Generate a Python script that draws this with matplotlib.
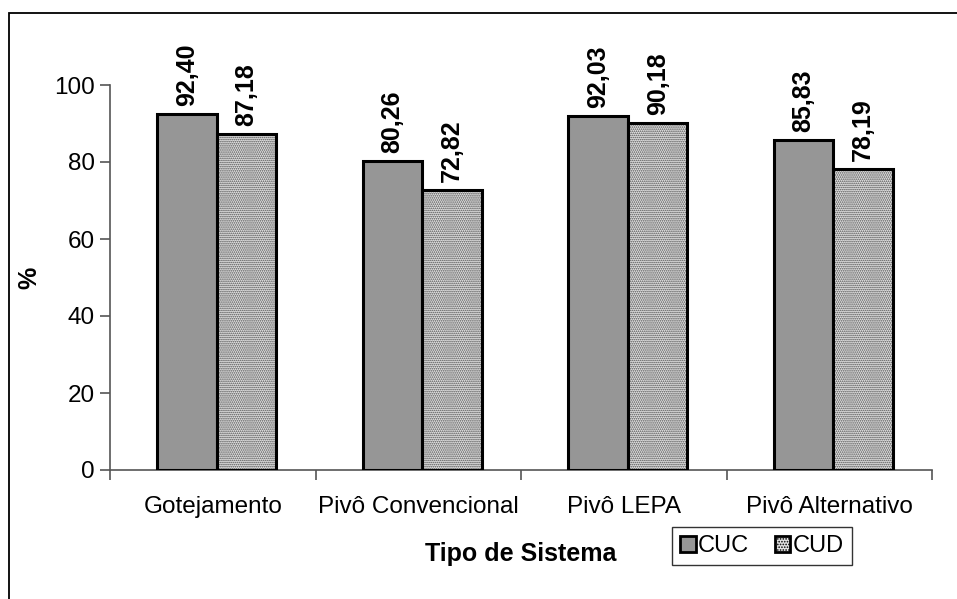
import matplotlib.pyplot as plt
import numpy as np
from matplotlib.patches import Patch, Rectangle

plt.rcParams["font.family"] = ["Liberation Sans", "DejaVu Sans"]
plt.rcParams["hatch.linewidth"] = 0.8

categorias = ["Gotejamento", "Pivô Convencional", "Pivô LEPA", "Pivô Alternativo"]
cuc = [92.40, 80.26, 92.03, 85.83]
cud = [87.18, 72.82, 90.18, 78.19]
series = ["CUC", "CUD"]

fig = plt.figure(figsize=(9.57, 5.99), dpi=100)
ax = fig.add_axes([110 / 957, 1 - 470 / 599, (932 - 110) / 957, (470 - 85) / 599])

x = np.arange(len(categorias))
w = 0.29
xc = x - w / 2 + 0.02
xd = x + w / 2 + 0.02

ax.bar(xc, cuc, w, color="#969696", edgecolor="black", linewidth=2.2, zorder=3)
# CUD: fine dotted pattern, then black outline on top
ax.bar(xd, cud, w, color="#e4e4e4", edgecolor="#4a4a4a", hatch="........", linewidth=0, zorder=3)
ax.bar(xd, cud, w, fill=False, edgecolor="black", linewidth=2.2, zorder=4)

for xs, vals in ((xc, cuc), (xd, cud)):
    for xi, v in zip(xs, vals):
        ax.annotate(f"{v:.2f}".replace(".", ","), (xi, v), xytext=(0, 8),
                    textcoords="offset pixels", rotation=90, ha="center", va="bottom",
                    fontsize=18, fontweight="bold")

ax.set_xlim(-0.5, len(categorias) - 0.5)
ax.set_ylim(0, 100)
ax.set_yticks([0, 20, 40, 60, 80, 100])
ax.set_xticks(x)
ax.set_xticklabels(categorias)
ax.set_xticks(np.arange(len(categorias) + 1) - 0.5, minor=True)
ax.tick_params(axis="x", which="major", length=0, pad=19, labelsize=17.5)
ax.tick_params(axis="x", which="minor", length=7, width=1.2, color="#555555", direction="out")
ax.tick_params(axis="y", length=7, width=1.2, color="#555555", pad=4, labelsize=17.5)

for s in ("top", "right"):
    ax.spines[s].set_visible(False)
for s in ("left", "bottom"):
    ax.spines[s].set_color("#555555")
    ax.spines[s].set_linewidth(1.2)

ax.set_xlabel("Tipo de Sistema", fontsize=18, fontweight="bold", labelpad=17)
ax.set_ylabel("%", fontsize=18, fontweight="bold")
ax.yaxis.set_label_coords(-0.084, 0.5)

handles = [
    Patch(facecolor="#969696", edgecolor="black", linewidth=2),
    Patch(facecolor="#e4e4e4", edgecolor="black", hatch="......", linewidth=2),
]
fig.legend(handles, series, loc="center", bbox_to_anchor=(762 / 957, 1 - 546 / 599),
           ncol=2, fontsize=17, frameon=True, fancybox=False, edgecolor="black",
           handlelength=0.65, handleheight=0.65, handletextpad=0.1, columnspacing=1.1,
           borderpad=0.35, borderaxespad=0)

# chart area border (only top and left edges show in the image)
fig.add_artist(Rectangle((9 / 957, -0.2), 1.5, 1.2 - 13 / 599, fill=False,
                         edgecolor="black", linewidth=1.3, transform=fig.transFigure))

plt.savefig("out.png", dpi=100)
plt.close(fig)
